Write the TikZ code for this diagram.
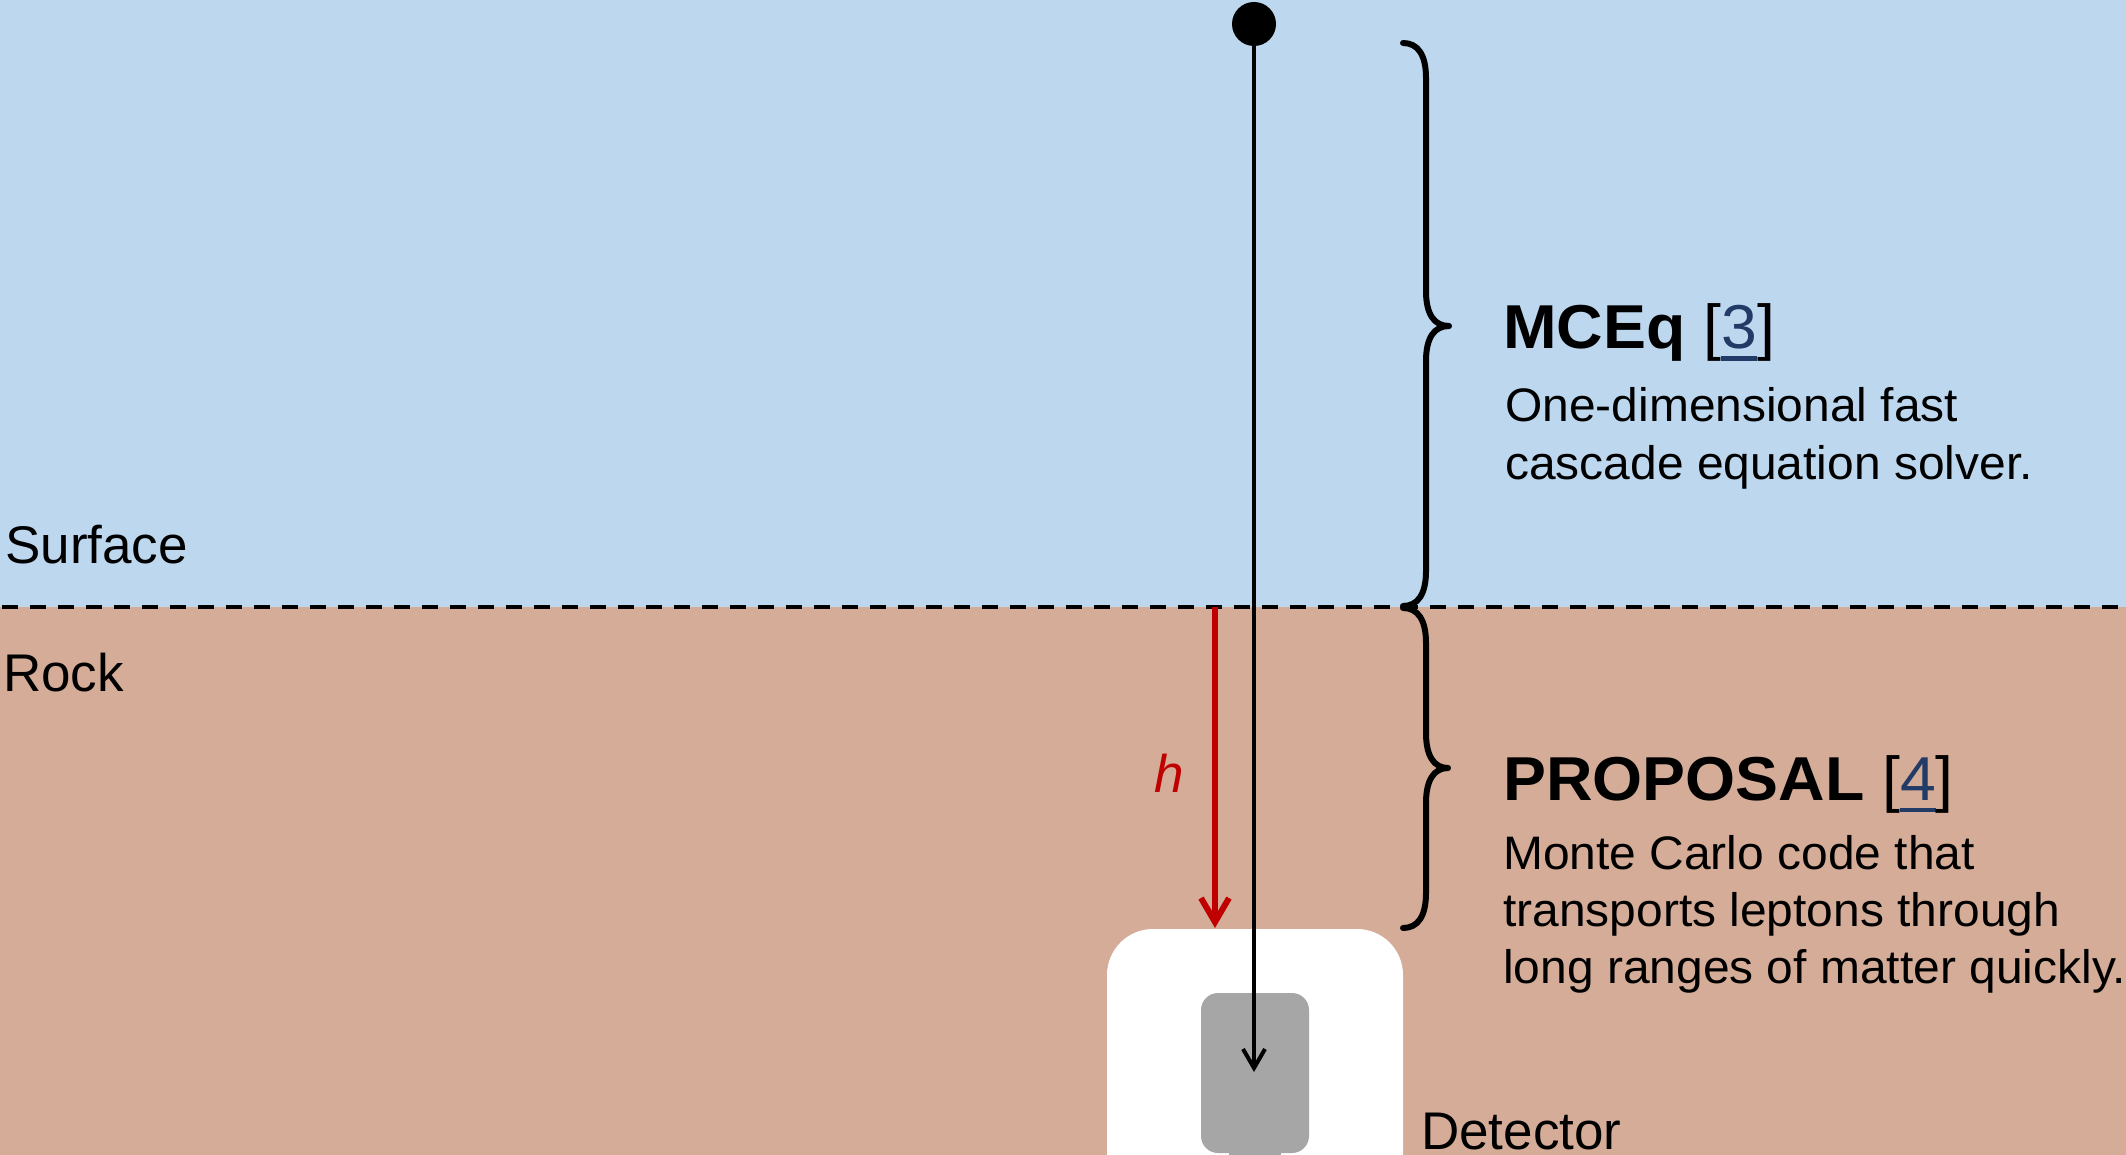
\documentclass[tikz,border=0pt]{standalone}
\usepackage{fontspec}
\setmainfont{Liberation Sans}
\usetikzlibrary{arrows.meta}
\definecolor{skyblue}{RGB}{189,215,238}
\definecolor{rockbrown}{RGB}{212,172,152}
\definecolor{detgray}{RGB}{166,166,166}
\definecolor{harrow}{RGB}{192,0,0}
\definecolor{linkblue}{RGB}{33,58,102}
\newcommand{\myul}[1]{\setbox0\hbox{#1}\rlap{\rule[-12pt]{\wd0}{4.5pt}}\box0}
\begin{document}
\begin{tikzpicture}[x=1pt,y=-1pt,
  lbl/.style={anchor=base west,inner sep=0pt,font=\fontsize{53}{60}\selectfont},
  ttl/.style={anchor=base west,inner sep=0pt,font=\fontsize{62}{70}\selectfont\addfontfeatures{FakeStretch=1.038}},
  body/.style={anchor=base west,inner sep=0pt,font=\fontsize{47}{56}\selectfont\addfontfeatures{FakeStretch=1.02}},
  bracepath/.style={line width=6pt,line cap=round,line join=round},
  track/.style={line width=4pt,-{Straight Barb[length=19pt,width=22pt]}},
  depth/.style={line width=6pt,draw=harrow,-{Straight Barb[length=24pt,width=28pt]}},
  surfline/.style={line width=3.5pt,dash pattern=on 16pt off 12pt,dash phase=26pt}
]
\useasboundingbox (0,0) rectangle (2126,1155);
% backgrounds
\fill[skyblue] (0,0) rectangle (2126,607);
\fill[rockbrown] (0,607) rectangle (2126,1155);
% surface line
\draw[surfline] (0,607) -- (2126,607);
% detector hall and detector
\fill[white,rounded corners=46pt] (1107,929) rectangle (1403,1200);
\fill[detgray] (1229,1140) rectangle (1281,1160);
\fill[detgray,rounded corners=17pt] (1201,993) rectangle (1309,1153);
% depth arrow
\coordinate (hTop) at (1215,607);
\coordinate (hBot) at (1215,928);
\draw[depth] (hTop) -- (hBot);
\node[anchor=base,inner sep=0pt,text=harrow,font=\fontsize{53}{60}\selectfont\itshape] (hlab) at (1169,792) {h};
% particle track
\node[circle,fill=black,inner sep=0pt,minimum size=44pt] (dot) at (1254,24) {};
\coordinate (trackEnd) at (1254,1072);
\draw[track] (dot.center) -- (trackEnd);
% braces
\draw[bracepath] (1403,43) .. controls (1418,43) and (1426,55) .. (1426,78)
  -- (1426,291) .. controls (1426,314) and (1434,326) .. (1449,326)
  .. controls (1434,326) and (1426,338) .. (1426,361)
  -- (1426,571) .. controls (1426,594) and (1418,606) .. (1403,606);
\draw[bracepath] (1403,608) .. controls (1418,608) and (1426,620) .. (1426,643)
  -- (1426,733) .. controls (1426,756) and (1434,768) .. (1448,768)
  .. controls (1434,768) and (1426,780) .. (1426,803)
  -- (1426,893) .. controls (1426,916) and (1418,928) .. (1403,928);
% labels
\node[lbl] (surf) at (5,563) {Surface};
\node[lbl] (rock) at (3,691) {Rock};
\node[lbl] (det) at (1421,1149) {Detector};
\node[ttl] (mceq) at (1503,349) {{\bfseries MCEq} [\textcolor{linkblue}{\myul{3}}]};
\node[body] (mceqA) at (1505,421) {One-dimensional fast};
\node[body] (mceqB) at (1505,479) {cascade equation solver.};
\node[ttl] (prop) at (1503,800) {{\bfseries PROPOSAL} [\textcolor{linkblue}{\myul{4}}]};
\node[body] (propA) at (1503,869) {Monte Carlo code that};
\node[body] (propB) at (1503,926) {transports leptons through};
\node[body] (propC) at (1503,983) {long ranges of matter quickly.};
\end{tikzpicture}
\end{document}
